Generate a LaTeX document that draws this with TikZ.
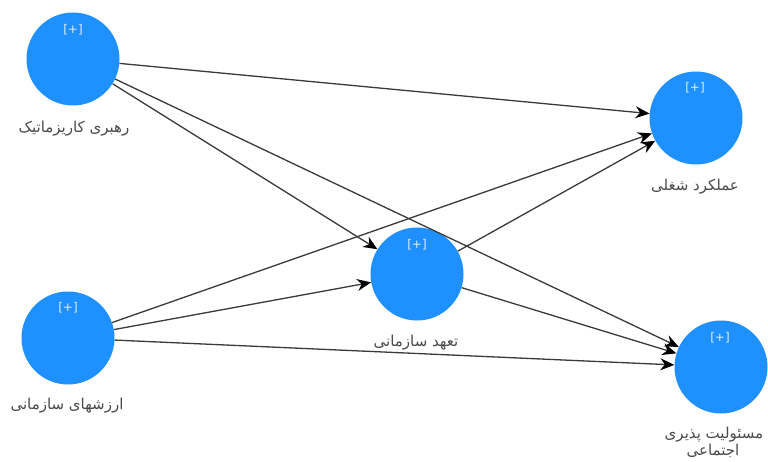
\documentclass[tikz,border=0pt]{standalone}
\usepackage{fontspec}
\usetikzlibrary{arrows.meta}
\TeXXeTstate=1
\newfontfamily\arabicfont[Script=Arabic]{DejaVu Sans}
\newfontfamily\plusfont{DejaVu Sans}
\definecolor{discblue}{HTML}{1E90FF}
\definecolor{labelgrey}{HTML}{4A4A4A}
\definecolor{linkgrey}{HTML}{3A3A3A}
\tikzset{
  disc/.style={circle,fill=discblue,draw=none,minimum size=93pt,inner sep=0pt},
  plus/.style={text=white!85!discblue,font=\plusfont\fontsize{12}{13}\selectfont,inner sep=0pt},
  caption/.style={text=labelgrey,font=\arabicfont\fontsize{15}{17}\selectfont,inner sep=0pt,align=center},
  link/.style={draw=linkgrey,line width=1.3pt,-{Stealth[length=14pt,width=12pt,color=black]}}
}
\begin{document}
\begin{tikzpicture}[x=1pt,y=-1pt]
\useasboundingbox (0,0) rectangle (768,462);
\fill[white] (0,0) rectangle (768,462);
\node[disc] (A) at (73,59) {};
\node[disc] (B) at (68,338) {};
\node[disc] (C) at (417,274) {};
\node[disc] (D) at (696,118) {};
\node[disc] (E) at (721,367) {};
\node[plus] (pa) at (73,30) {[+]};
\node[plus] (pb) at (68,308) {[+]};
\node[plus] (pc) at (417,245) {[+]};
\node[plus] (pd) at (695,88) {[+]};
\node[plus] (pe) at (720,338) {[+]};
\node[caption] (la) at (74,129) {\beginR رهبری کاریزماتیک\endR};
\node[caption] (lb) at (67,406) {\beginR ارزشهای سازمانی\endR};
\node[caption] (lc) at (416,343) {\beginR تعهد سازمانی\endR};
\node[caption] (ld) at (695,187) {\beginR عملکرد شغلی\endR};
\node[caption] (le) at (714,435) {\beginR مسئولیت پذیری\endR};
\node[caption] (lf) at (713,451) {\beginR اجتماعی\endR};
\draw[link] (A) -- (D);
\draw[link] (A) -- (C);
\draw[link] (A) -- (E);
\draw[link] (B) -- (D);
\draw[link] (B) -- (C);
\draw[link] (B) -- (E);
\draw[link] (C) -- (D);
\draw[link] (C) -- (E);
\end{tikzpicture}
\end{document}
